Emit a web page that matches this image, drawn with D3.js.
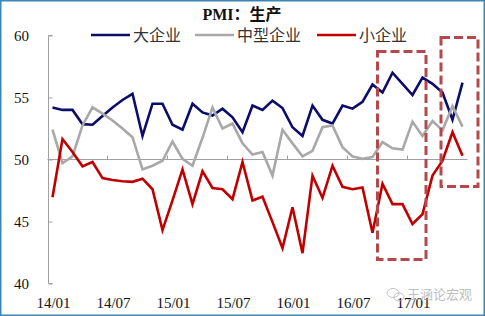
<!DOCTYPE html>
<html>
<head>
<meta charset="utf-8">
<script src="https://cdn.jsdelivr.net/npm/d3@7"></script>
<style>
  body { margin: 0; background: #fff; }
  svg { display: block; }
</style>
</head>
<body>
<div id="chart"></div>
<script>
// months 14/01 .. 17/06
const months = [];
for (let y = 14; y <= 17; y++) {
    for (let m = 1; m <= 12; m++) {
        if (y === 17 && m > 6) break;
        months.push(`${y}/${String(m).padStart(2, '0')}`);
    }
}

const tickLabels = ['14/01', '14/07', '15/01', '15/07', '16/01', '16/07', '17/01'];

const large = [54.2, 54.0, 54.0, 52.85, 52.8, 53.5, 54.2, 54.8, 55.3, 51.9,
               54.5, 54.5, 52.8, 52.4, 54.5, 53.8, 53.55, 54.1, 53.4, 52.2,
               54.35, 54.0, 54.75, 54.15, 52.6, 51.9, 54.35, 53.2, 52.9, 54.35,
               54.1, 54.65, 56.05, 55.4, 57.0, 56.1, 55.2, 56.6, 56.1, 55.4,
               53.2, 56.2];

const medium = [52.4, 49.7, 50.25, 52.75, 54.2, 53.7, 53.15, 52.5, 51.8, 49.2,
                49.5, 49.9, 51.45, 50.05, 49.5, 51.75, 54.2, 52.5, 52.9, 51.3,
                50.4, 50.6, 48.7, 52.4, 51.3, 50.25, 50.7, 52.6, 52.75, 51.0,
                50.25, 50.05, 50.2, 51.4, 50.9, 50.8, 53.05, 51.9, 53.1, 52.35,
                54.3, 52.65];

const small = [46.95, 51.65, 50.6, 49.45, 49.8, 48.5, 48.35, 48.25, 48.2, 48.45,
               47.6, 44.3, 46.7, 49.2, 46.4, 49.05, 47.7, 47.6, 46.8, 49.8,
               46.7, 47.0, 44.95, 42.85, 46.15, 42.45, 48.7, 46.9, 49.5, 47.8,
               47.6, 47.75, 44.1, 48.05, 46.4, 46.4, 44.8, 45.6, 48.7, 49.9,
               52.2, 50.3];

const seriesNames = ['大企业', '中型企业', '小企业'];
const seriesColors = ['#0c0c6a', '#a8a8a8', '#c00000'];
const seriesData = [large, medium, small];

const W = 485, H = 316;

const svg = d3.select('#chart')
    .append('svg')
        .attr('width', W)
        .attr('height', H);

// outer frame
svg.append('rect')
    .attr('x', 0.75).attr('y', 0.75)
    .attr('width', W - 1.5).attr('height', H - 1.5)
    .attr('fill', 'none')
    .attr('stroke', '#3c86b4')
    .attr('stroke-width', 1.5);

// scales
const x = d3.scaleBand()
    .domain(months)
    .range([47.5, 467.5]);

const xc = d => x(d) + x.bandwidth() / 2;

const y = d3.scaleLinear()
    .domain([40, 60])
    .range([283.5, 35.5]);

// y axis
const yAxis = svg.append('g')
    .attr('transform', 'translate(48.5,0)')
    .call(d3.axisRight(y).tickValues([40, 45, 50, 55, 60]).tickSize(4).tickFormat(''));
yAxis.select('.domain').attr('stroke', '#a0a0a0').attr('d', `M4,${y(40)}H0V${y(60)}H4`);
yAxis.selectAll('.tick line').attr('stroke', '#a0a0a0');

svg.append('g')
    .selectAll('text')
    .data([40, 45, 50, 55, 60])
    .enter()
    .append('text')
        .attr('x', 29)
        .attr('y', d => y(d))
        .attr('dy', '0.35em')
        .style('text-anchor', 'end')
        .style('font-family', '"Liberation Serif", serif')
        .style('font-size', '15px')
        .attr('fill', '#111')
        .text(d => d);

// x axis at 50
const xAxis = svg.append('g')
    .attr('transform', `translate(0,${y(50)})`)
    .call(d3.axisTop(x)
        .tickValues(months.filter((d, i) => i % 6 === 0 && i > 0))
        .tickSize(4)
        .tickFormat(''));
xAxis.select('.domain').attr('stroke', '#a0a0a0').attr('d', `M${x.range()[0]},0H${x.range()[1]}`);
xAxis.selectAll('.tick')
    .attr('transform', d => `translate(${x(d)},0)`);
xAxis.selectAll('.tick line').attr('stroke', '#a0a0a0');

// x tick labels
svg.append('g')
    .selectAll('text')
    .data(tickLabels)
    .enter()
    .append('text')
        .attr('x', d => xc(d) + 1)
        .attr('y', 308)
        .style('text-anchor', 'middle')
        .style('font-family', '"Liberation Serif", serif')
        .style('font-size', '15px')
        .attr('fill', '#111')
        .text(d => d);

// lines
const line = d3.line()
    .x((d, i) => xc(months[i]))
    .y(d => y(d));

svg.append('g')
    .selectAll('path')
    .data(seriesData)
    .enter()
    .append('path')
        .attr('d', line)
        .attr('fill', 'none')
        .attr('stroke', (d, i) => seriesColors[i])
        .attr('stroke-width', 2.6)
        .attr('stroke-linejoin', 'miter');

// dashed highlight boxes
const boxStyle = sel => sel
    .attr('fill', 'none')
    .attr('stroke', '#b5484b')
    .attr('stroke-width', 3)
    .attr('stroke-dasharray', '9,4');

// 16/10 .. 17/02
svg.append('rect')
    .attr('x', x('16/10'))
    .attr('y', 51.5)
    .attr('width', x('17/02') - x('16/10') + x.bandwidth() - 1.5)
    .attr('height', 208)
    .call(boxStyle);

// 17/05 .. 17/06
svg.append('rect')
    .attr('x', x('17/04') + 3.5)
    .attr('y', 37.5)
    .attr('width', 37)
    .attr('height', 149)
    .call(boxStyle);

// title
svg.append('text')
    .attr('x', 242)
    .attr('y', 20)
    .style('text-anchor', 'middle')
    .style('font-family', '"Liberation Serif", "Noto Sans CJK SC", serif')
    .style('font-size', '16px')
    .style('font-weight', 'bold')
    .attr('fill', '#111')
    .text('PMI：生产');

// legend
const legendX = [91, 195, 317];
const legend = svg.append('g')
    .selectAll('g')
    .data(seriesNames)
    .enter()
    .append('g')
        .attr('transform', (d, i) => `translate(${legendX[i]},35)`);

legend.append('line')
    .attr('x1', 0).attr('x2', 39)
    .attr('stroke', (d, i) => seriesColors[i])
    .attr('stroke-width', 2.6);

legend.append('text')
    .attr('x', 42)
    .attr('dy', '0.36em')
    .style('font-family', '"Noto Sans CJK SC", sans-serif')
    .style('font-size', '16px')
    .attr('fill', '#333')
    .text(d => d);

// watermark
const wm = svg.append('g').attr('opacity', 0.75);
wm.append('text')
    .attr('x', 407)
    .attr('y', 299)
    .style('font-family', '"Noto Sans CJK SC", sans-serif')
    .style('font-size', '13px')
    .attr('fill', '#a9a9a9')
    .text('王涵论宏观');
wm.append('ellipse')
    .attr('cx', 393).attr('cy', 293).attr('rx', 6).attr('ry', 4.5)
    .attr('fill', 'none').attr('stroke', '#b0b0b0').attr('stroke-width', 1);
wm.append('ellipse')
    .attr('cx', 399).attr('cy', 297).attr('rx', 5).attr('ry', 4)
    .attr('fill', 'none').attr('stroke', '#b0b0b0').attr('stroke-width', 1);
</script>
</body>
</html>
